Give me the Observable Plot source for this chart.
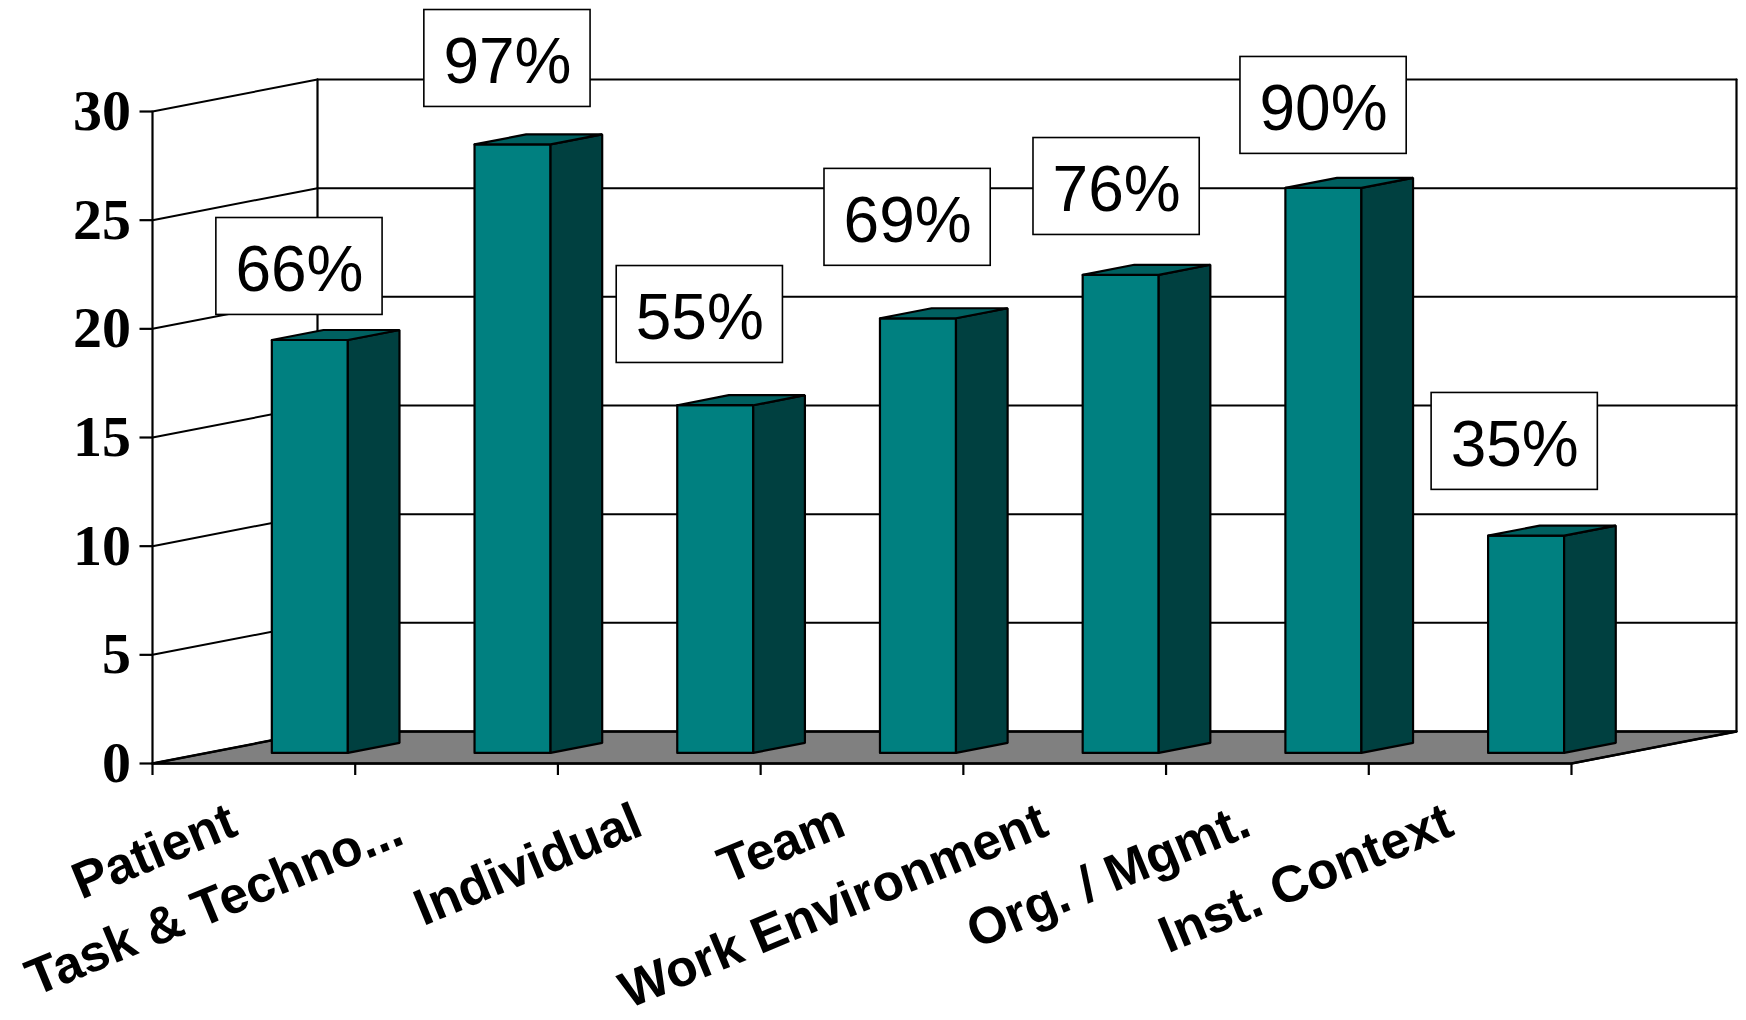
<!DOCTYPE html>
<html>
<head>
<meta charset="utf-8">
<script src="https://cdn.jsdelivr.net/npm/d3@7"></script>
<script src="https://cdn.jsdelivr.net/npm/@observablehq/plot@0.6"></script>
<style>
html,body{margin:0;padding:0;background:#fff}
svg{display:block}
</style>
</head>
<body>
<div id="chart"></div>
<script>
const categories = ["Patient","Task & Techno...","Individual","Team","Work Environment","Org. / Mgmt.","Inst. Context"];
const values = [19,28,16,20,22,26,10];
const percents = ["66%","97%","55%","69%","76%","90%","35%"];
const labelX = [0.725,1.751,2.70,3.725,4.756,5.777,6.72];
const labelY = [22.87,32.44,20.66,25.13,26.55,30.28,14.82];
const yTicks = [0,5,10,15,20,25,30];
const xTicks = [0,1,2,3,4,5,6,7];

// 3-D projection expressed in data units: depth t in [0,1]
const DEPTH_X = 0.814, DEPTH_Y = 1.473;
const BAR_START = 0.32, BAR_WIDTH = 0.375, T0 = 0.33, T1 = 0.643;
const BOX_W = 0.41, BOX_H = 2.23;
const P = (x, v, t) => ({x: x + t * DEPTH_X, y: v + t * DEPTH_Y});
const N = categories.length, TOP_VALUE = 30;

const poly = (id, pts) => [...pts, pts[0]].map(p => ({...p, id}));

const floorFace = poly("floor", [P(0,0,0), P(N,0,0), P(N,0,1), P(0,0,1)]);
const gridLeft = yTicks.flatMap(v => [P(0,v,0), P(0,v,1)].map(p => ({...p, id:v})));
const gridBack = yTicks.flatMap(v => [P(0,v,1), P(N,v,1)].map(p => ({...p, id:v})));
const wallEdges = [
  ...[P(0,0,1),P(0,TOP_VALUE,1)].map(p => ({...p,id:"a"})),
  ...[P(N,0,1),P(N,TOP_VALUE,1)].map(p => ({...p,id:"b"})),
  ...[P(0,0,0),P(0,TOP_VALUE,0)].map(p => ({...p,id:"c"})),
  ...[P(0,0,0),P(N,0,0),P(N,0,1)].map(p => ({...p,id:"d"}))
];
const faces = (fn) => values.flatMap((v,i) => poly(i, fn(i + BAR_START, i + BAR_START + BAR_WIDTH, v)));
const frontFaces = faces((a,b,v) => [P(a,0,T0),P(b,0,T0),P(b,v,T0),P(a,v,T0)]);
const sideFaces  = faces((a,b,v) => [P(b,0,T0),P(b,0,T1),P(b,v,T1),P(b,v,T0)]);
const topFaces   = faces((a,b,v) => [P(a,v,T0),P(b,v,T0),P(b,v,T1),P(a,v,T1)]);

const labels = categories.map((c,i) => ({c, x: i + (i === 1 ? 0.22 : 0.40), y: i === 1 ? -2.95 : -2.55}));
const boxes = percents.map((p,i) => ({p, x: labelX[i], y: labelY[i]}));

const lineOpts = {x:"x", y:"y", z:"id", strokeLinejoin:"miter", curve:"linear"};
const chart = Plot.plot({
  width: 1746, height: 1020,
  marginLeft: 152, marginRight: 10, marginTop: 79, marginBottom: 257,
  x: {domain: [0, N + DEPTH_X], axis: null},
  y: {domain: [0, TOP_VALUE + DEPTH_Y], axis: null},
  marks: [
    Plot.line(floorFace, {...lineOpts, fill:"#808080", stroke:"#000", strokeWidth:2.4}),
    Plot.line(gridLeft, {...lineOpts, stroke:"#000", strokeWidth:2}),
    Plot.line(gridBack, {...lineOpts, stroke:"#000", strokeWidth:2}),
    Plot.line(wallEdges, {...lineOpts, stroke:"#000", strokeWidth:2.2}),
    Plot.axisY({ticks: yTicks, tickSize: 12.5, tickPadding: 9, stroke:"#000", strokeWidth:2.2, fontSize: 58, fontWeight: "bold", fontFamily: "Liberation Serif", fill:"#000", label:null}),
    Plot.axisX({ticks: xTicks, tickSize: 12, tickFormat: () => "", stroke:"#000", strokeWidth:2.2, label:null}),
    Plot.line(frontFaces, {...lineOpts, fill:"#008080", stroke:"#000", strokeWidth:2.2}),
    Plot.line(sideFaces, {...lineOpts, fill:"#004040", stroke:"#000", strokeWidth:2.2}),
    Plot.line(topFaces, {...lineOpts, fill:"#006060", stroke:"#000", strokeWidth:2.2}),
    Plot.text(labels, {x:"x", y:"y", text:"c", textAnchor:"end", rotate:-22.5, fontSize:51.5, fontWeight:"bold", fontFamily:"Liberation Sans", fill:"#000"}),
    Plot.rect(boxes, {x1:d=>d.x-BOX_W, x2:d=>d.x+BOX_W, y1:d=>d.y-BOX_H, y2:d=>d.y+BOX_H, fill:"#fff", stroke:"#000", strokeWidth:1.6}),
    Plot.text(boxes, {x:"x", y:"y", text:"p", dy:4, fontSize:64, fontFamily:"Liberation Sans", fill:"#000"})
  ]
});
document.getElementById("chart").appendChild(chart);
</script>
</body>
</html>
